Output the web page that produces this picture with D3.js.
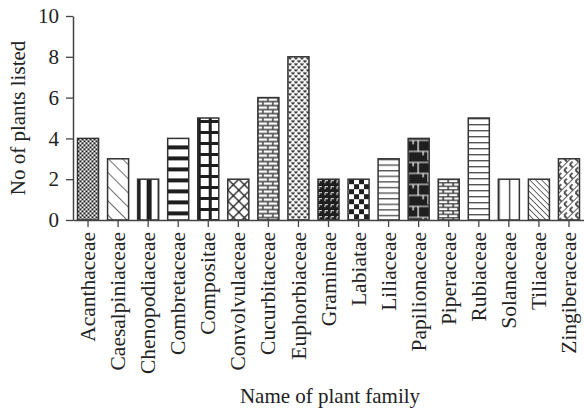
<!DOCTYPE html>
<html>
<head>
<meta charset="utf-8">
<script src="https://cdn.jsdelivr.net/npm/d3@7"></script>
<style>
  body { margin: 0; background: #fff; }
  svg { display: block; }
  svg text { font-family: "Liberation Serif", "Times New Roman", serif; fill: #222; font-size: 21px; }
</style>
</head>
<body>
<svg id="chart" width="584" height="411"></svg>
<script>
const families = ["Acanthaceae","Caesalpiniaceae","Chenopodiaceae","Combretaceae","Compositae","Convolvulaceae","Cucurbitaceae","Euphorbiaceae","Gramineae","Labiatae","Liliaceae","Papilionaceae","Piperaceae","Rubiaceae","Solanaceae","Tiliaceae","Zingiberaceae"];
const counts = [4,3,2,4,5,2,6,8,2,2,3,4,2,5,2,2,3];
const yTicks = [0,2,4,6,8,10];
const yTitle = "No of plants listed";
const xTitle = "Name of plant family";

const svg = d3.select("#chart");
const W = 584, H = 411;
const m = {left: 73, right: 0, top: 16, bottom: 191};

const x = d3.scaleBand().domain(families).range([m.left, W - m.right]).paddingInner(0.3).paddingOuter(0.15);
const y = d3.scaleLinear().domain([0, 10]).range([H - m.bottom, m.top]);

const defs = svg.append("defs");
const ink = "#1e1e1e";

function pat(id, w, h, draw, transform) {
  const p = defs.append("pattern").attr("id", id).attr("patternUnits", "userSpaceOnUse")
    .attr("width", w).attr("height", h);
  if (transform) p.attr("patternTransform", transform);
  p.append("rect").attr("width", w).attr("height", h).attr("fill", "#fff");
  draw(p);
}
pat("p0", 4, 4, p => { p.append("rect").attr("width",2).attr("height",2).attr("fill",ink); p.append("rect").attr("x",2).attr("y",2).attr("width",2).attr("height",2).attr("fill",ink); });
pat("p1", 10, 10, p => { p.append("line").attr("x1",0).attr("y1",0).attr("x2",0).attr("y2",10).attr("stroke",ink).attr("stroke-width",1.3); }, "rotate(-45)");
pat("p2", 11, 10, p => { p.append("rect").attr("x",4).attr("width",5).attr("height",10).attr("fill",ink); }, "translate(5,0)");
pat("p3", 10, 11, p => { p.append("rect").attr("y",7).attr("width",10).attr("height",4).attr("fill",ink); });
pat("p4", 11, 11, p => { p.append("rect").attr("x",0).attr("width",3).attr("height",11).attr("fill",ink); p.append("rect").attr("y",0).attr("width",11).attr("height",3).attr("fill",ink); }, "translate(0,2)");
pat("p5", 11, 11, p => {
  p.append("path").attr("d","M0,0L11,11M11,0L0,11").attr("stroke",ink).attr("stroke-width",1.3).attr("fill","none");
});
pat("p6", 10, 8, p => {
  p.append("rect").attr("width",10).attr("height",8).attr("fill","#4a4a4a");
  p.append("rect").attr("x",0.8).attr("y",0.8).attr("width",8.4).attr("height",2.4).attr("fill","#fff");
  p.append("rect").attr("x",-4.2).attr("y",4.8).attr("width",8.4).attr("height",2.4).attr("fill","#fff");
  p.append("rect").attr("x",5.8).attr("y",4.8).attr("width",8.4).attr("height",2.4).attr("fill","#fff");
});
pat("p7", 6, 6, p => {
  p.append("path").attr("d","M0.5,0.5L2,2L3.5,0.5M3.5,3.5L5,5L6.5,3.5M-2.5,3.5L-1,5L0.5,3.5").attr("stroke",ink).attr("stroke-width",1.3).attr("fill","none");
});
pat("p8", 6, 6, p => {
  p.select("rect").attr("fill", ink);
  p.append("path").attr("d","M1,1.5H4M1,1.5V4").attr("stroke","#fff").attr("stroke-width",0.9).attr("fill","none");
});
pat("p9", 10, 10, p => { p.append("rect").attr("width",5).attr("height",5).attr("fill",ink); p.append("rect").attr("x",5).attr("y",5).attr("width",5).attr("height",5).attr("fill",ink); }, "translate(1,0)");
pat("p10", 10, 5.6, p => { p.append("rect").attr("y",0).attr("width",10).attr("height",1.4).attr("fill","#555"); });
pat("p11", 20, 22, p => {
  p.select("rect").attr("fill", ink);
  p.append("path").attr("d","M0,2H20M0,13H20M10,2V13M0,13V22M20,13V22M5,2V6M15,13V17").attr("stroke","#fff").attr("stroke-width",1.2).attr("fill","none");
});
pat("p12", 10, 7, p => {
  p.append("rect").attr("width",10).attr("height",7).attr("fill","#3a3a3a");
  p.append("rect").attr("x",0.8).attr("y",0.8).attr("width",8.4).attr("height",2.2).attr("fill","#fff");
  p.append("rect").attr("x",-4.2).attr("y",4.3).attr("width",8.4).attr("height",2.2).attr("fill","#fff");
  p.append("rect").attr("x",5.8).attr("y",4.3).attr("width",8.4).attr("height",2.2).attr("fill","#fff");
});
pat("p13", 10, 6, p => { p.append("rect").attr("y",0).attr("width",10).attr("height",1.4).attr("fill","#555"); });
pat("p14", 10.5, 10, p => { p.append("rect").attr("x",0).attr("width",1.4).attr("height",10).attr("fill","#444"); });
pat("p15", 4.2, 4.2, p => { p.append("line").attr("x1",0).attr("y1",0).attr("x2",0).attr("y2",4.2).attr("stroke",ink).attr("stroke-width",1.3); }, "rotate(-45)");
pat("p16", 8, 8, p => {
  p.append("path").attr("d","M0,0V8M4,0V4M4,4H8").attr("stroke",ink).attr("stroke-width",1.4).attr("fill","none");
}, "rotate(45)");

families.forEach((f, i) => {
  const pn = d3.select("#p" + i);
  const t = pn.attr("patternTransform") || "";
  pn.attr("patternTransform", `translate(${x(f)},${y(counts[i])}) ` + t);
});
svg.append("g").selectAll("rect").data(families).join("rect")
  .attr("x", d => x(d))
  .attr("y", (d, i) => y(counts[i]))
  .attr("width", x.bandwidth())
  .attr("height", (d, i) => y(0) - y(counts[i]))
  .attr("fill", (d, i) => `url(#p${i})`)
  .attr("stroke", "#333")
  .attr("stroke-width", 1.5);

const axisColor = "#444";
const gx = svg.append("g").attr("transform", `translate(0,${y(0)})`)
  .call(d3.axisBottom(x).tickSize(7).tickSizeOuter(0));
gx.attr("font-size", null).attr("font-family", null);
gx.select(".domain").attr("stroke", axisColor).attr("stroke-width", 1.5);
gx.selectAll(".tick line").attr("stroke", axisColor).attr("stroke-width", 1.3);
gx.selectAll(".tick text")
  .style("font-size", "21.5px")
  .attr("transform", "rotate(-90)")
  .attr("text-anchor", "end")
  .attr("x", -12).attr("y", 0).attr("dy", "0.33em");

const gy = svg.append("g").attr("transform", `translate(${m.left},0)`)
  .call(d3.axisLeft(y).tickValues(yTicks).tickSize(7).tickSizeOuter(0));
gy.attr("font-size", null).attr("font-family", null);
gy.select(".domain").attr("stroke", axisColor).attr("stroke-width", 1.5);
gy.selectAll(".tick line").attr("stroke", axisColor).attr("stroke-width", 1.3);
gy.selectAll(".tick text").style("font-size", "21px").attr("x", -14);

svg.append("text").attr("transform", `translate(25,${(y(0)+y(10))/2}) rotate(-90)`)
  .attr("text-anchor", "middle").text(yTitle);
svg.append("text").attr("x", 330).attr("y", 403)
  .attr("text-anchor", "middle").text(xTitle);
</script>
</body>
</html>
